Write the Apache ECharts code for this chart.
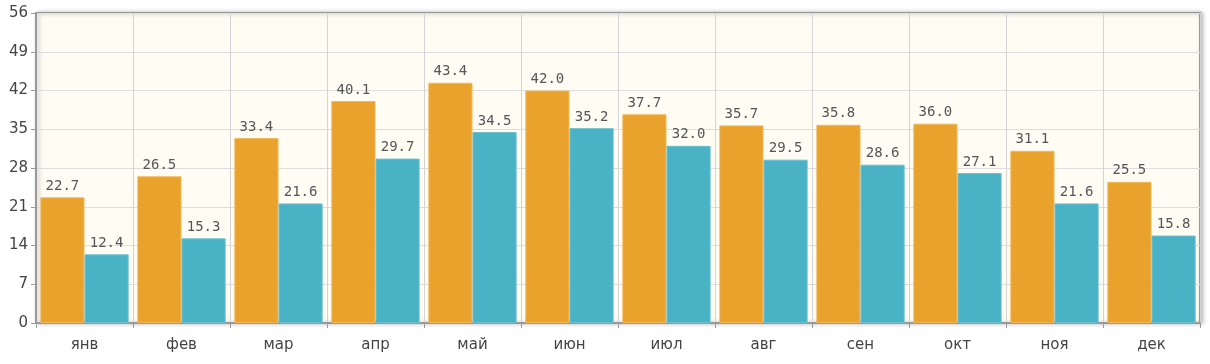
<!DOCTYPE html>
<html><head><meta charset="utf-8">
<script src="https://cdn.jsdelivr.net/npm/echarts@6/dist/echarts.min.js"></script>
<style>html,body{margin:0;padding:0;background:#fff}#c{width:1210px;height:364px}</style>
</head><body><div id="c"></div>
<script>
const categories = ['янв','фев','мар','апр','май','июн','июл','авг','сен','окт','ноя','дек'];
const seriesA = [22.7,26.5,33.4,40.1,43.4,42.0,37.7,35.7,35.8,36.0,31.1,25.5];
const seriesB = [12.4,15.3,21.6,29.7,34.5,35.2,32.0,29.5,28.6,27.1,21.6,15.8];
const chart = echarts.init(document.getElementById('c'));
const lbl = {show:true, position:'top', distance:4, color:'#555', fontFamily:'DejaVu Sans Mono', fontSize:14, formatter:p=>p.value.toFixed(1)};
chart.setOption({
  animation:false,
  grid:{left:36,right:10,top:13,bottom:41,show:true,backgroundColor:'#fffcf4',borderColor:'#999',borderWidth:2,shadowColor:'rgba(0,0,0,0.25)',shadowBlur:4,shadowOffsetX:2,shadowOffsetY:0},
  xAxis:{type:'category',data:categories,
    axisLine:{lineStyle:{color:'#999',width:2}},
    axisTick:{show:true,length:5,lineStyle:{color:'#999'}},
    splitLine:{show:true,lineStyle:{color:'#d4d4d4',width:1}},
    axisLabel:{color:'#444',fontFamily:'DejaVu Sans',fontSize:15,margin:15}},
  yAxis:{type:'value',min:0,max:56,interval:7,
    axisLine:{show:true,lineStyle:{color:'#999',width:2}},
    axisTick:{show:true,length:5,lineStyle:{color:'#999'}},
    splitLine:{lineStyle:{color:'#ddd'}},
    axisLabel:{color:'#444',fontFamily:'DejaVu Sans',fontSize:15,margin:8}},
  series:[
    {type:'bar',data:seriesA,barGap:'0%',barCategoryGap:'9%',itemStyle:{color:'#e9a22b',borderColor:'#f0b85a',borderWidth:1},label:lbl},
    {type:'bar',data:seriesB,barGap:'0%',barCategoryGap:'9%',itemStyle:{color:'#4ab2c5',borderColor:'#6cc0cf',borderWidth:1},label:lbl}
  ]
});
</script></body></html>
